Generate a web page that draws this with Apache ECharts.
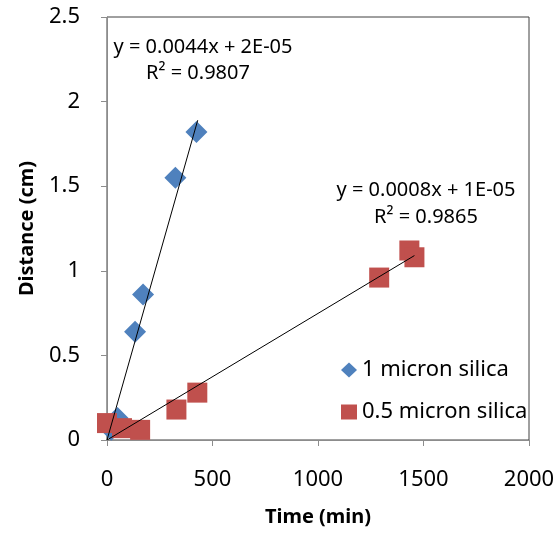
<!DOCTYPE html>
<html>
<head>
<meta charset="utf-8">
<script src="https://cdn.jsdelivr.net/npm/echarts@6/dist/echarts.min.js"></script>
<style>
  html, body { margin: 0; padding: 0; background: #fff; }
  #chart { width: 555px; height: 533px; }
</style>
</head>
<body>
<div id="chart"></div>
<script>
// Migration distance over time for two silica particle sizes
const seriesNames = ['1 micron silica', '0.5 micron silica'];

// [time (min), distance (cm)]
const micron1 = [[20, 0.06], [50, 0.13], [133, 0.64], [171, 0.86], [324, 1.55], [424, 1.82]];
const micron05 = [[0, 0.10], [71, 0.07], [157, 0.06], [329, 0.18], [428, 0.28], [1290, 0.96], [1433, 1.12], [1457, 1.08]];

// Linear trendline end points
const trend1 = [[0, 0], [430, 1.89]];
const trend05 = [[0, 0], [1457, 1.09]];

const trendText1 = ['y = 0.0044x + 2E-05', 'R² = 0.9807'];
const trendText05 = ['y = 0.0008x + 1E-05', 'R² = 0.9865'];

const xTicks = { min: 0, max: 2000, interval: 500 };
const yTicks = { min: 0, max: 2.5, interval: 0.5 };

const FONT = 'Noto Sans';
const chart = echarts.init(document.getElementById('chart'));

function eqText(x, y, text) {
  return {
    type: 'text', x: x, y: y, z: 10,
    style: { text: text, fontFamily: FONT, fontSize: 20, fill: '#000',
      align: 'center', verticalAlign: 'middle' }
  };
}

chart.setOption({
  animation: false,
  backgroundColor: '#ffffff',
  grid: {
    left: 107, right: 26, top: 17, bottom: 93, outerBoundsMode: 'none',
    show: true, borderColor: '#404040', borderWidth: 1, backgroundColor: 'transparent'
  },
  xAxis: {
    type: 'value', min: xTicks.min, max: xTicks.max, interval: xTicks.interval,
    name: 'Time (min)', nameLocation: 'middle', nameGap: 67, nameMoveOverlap: false,
    nameTextStyle: { fontFamily: FONT, fontSize: 20, fontWeight: 'bold', color: '#000' },
    axisLine: { show: true, lineStyle: { color: '#8c8c8c', width: 1 } },
    axisTick: { show: true, length: 6, inside: false, lineStyle: { color: '#8c8c8c' } },
    axisLabel: { fontFamily: FONT, fontSize: 22, color: '#000', margin: 29,
      formatter: v => String(v) },
    splitLine: { show: false }
  },
  yAxis: {
    type: 'value', min: yTicks.min, max: yTicks.max, interval: yTicks.interval,
    name: 'Distance (cm)', nameLocation: 'middle', nameGap: 70, nameRotate: 90, nameMoveOverlap: false,
    nameTextStyle: { fontFamily: FONT, fontSize: 20, fontWeight: 'bold', color: '#000' },
    axisLine: { show: true, lineStyle: { color: '#8c8c8c', width: 1 } },
    axisTick: { show: true, length: 6, inside: false, lineStyle: { color: '#8c8c8c' } },
    axisLabel: { fontFamily: FONT, fontSize: 22, color: '#000', margin: 27,
      formatter: v => String(v) },
    splitLine: { show: false }
  },
  legend: {
    orient: 'vertical', left: 341, top: 359, itemGap: 20, padding: 0,
    itemWidth: 16, itemHeight: 15,
    textStyle: { fontFamily: FONT, fontSize: 22, color: '#000' },
    data: [
      { name: seriesNames[0], icon: 'diamond' },
      { name: seriesNames[1], icon: 'rect' }
    ]
  },
  series: [
    {
      name: seriesNames[0], type: 'scatter', data: micron1,
      symbol: 'diamond', symbolSize: 22,
      itemStyle: { color: '#4F81BD', opacity: 1 }, z: 2
    },
    {
      name: seriesNames[1], type: 'scatter', data: micron05,
      symbol: 'rect', symbolSize: 20,
      itemStyle: { color: '#C0504D', opacity: 1 }, z: 3
    },
    {
      name: 'trend1', type: 'line', data: trend1, symbol: 'none', silent: true,
      lineStyle: { color: '#000', width: 1 }, z: 4
    },
    {
      name: 'trend05', type: 'line', data: trend05, symbol: 'none', silent: true,
      lineStyle: { color: '#000', width: 1 }, z: 4
    }
  ],
  graphic: [
    eqText(203, 47, trendText1[0]),
    eqText(198, 73, trendText1[1]),
    eqText(426, 190, trendText05[0]),
    eqText(426, 217, trendText05[1])
  ]
});
</script>
</body>
</html>
